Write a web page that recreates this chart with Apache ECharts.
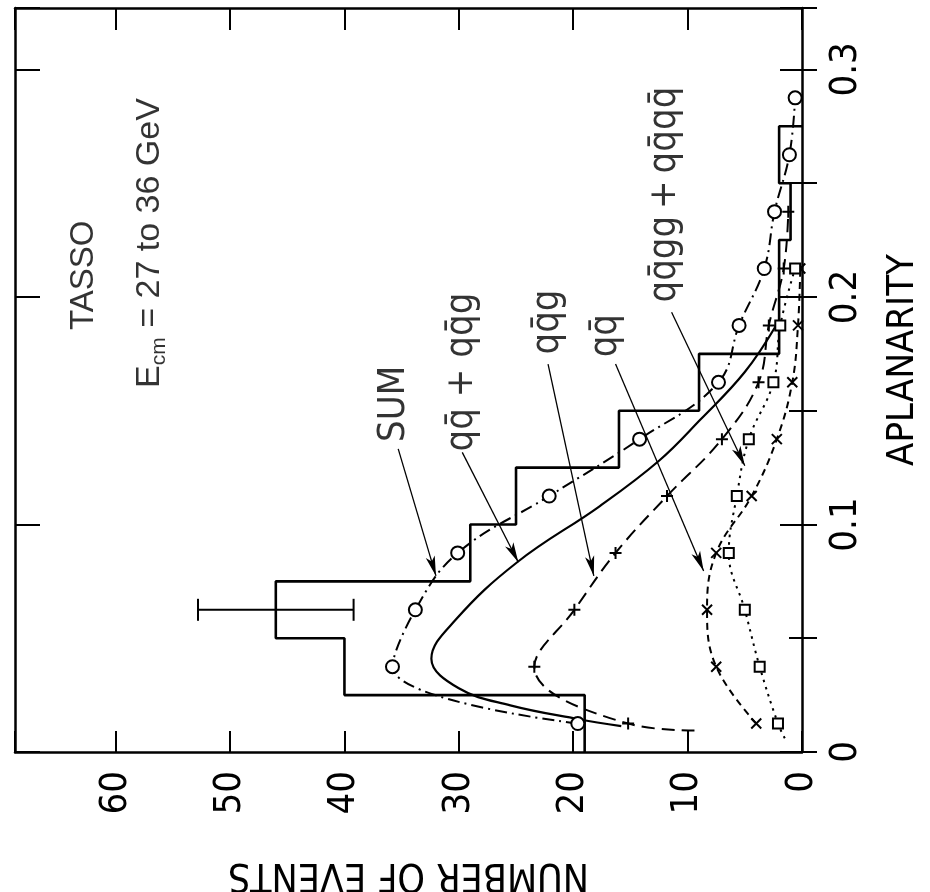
<!DOCTYPE html>
<html>
<head>
<meta charset="utf-8">
<script src="https://cdn.jsdelivr.net/npm/echarts@6/dist/echarts.min.js"></script>
<style>
html,body{margin:0;padding:0;background:#fff;}
#chart{width:930px;height:892px;}
</style>
</head>
<body>
<div id="chart"></div>
<script>
// ---------------- data ----------------
// Histogram of measured aplanarity (bins of 0.025)
const binLow   = [0, 0.025, 0.05, 0.075, 0.1, 0.125, 0.15, 0.175, 0.2, 0.225, 0.25, 0.275];
const binHigh  = [0.025, 0.05, 0.075, 0.1, 0.125, 0.15, 0.175, 0.2, 0.225, 0.25, 0.275, 0.3];
const histCounts = [19, 40, 46, 29, 25, 16, 9, 2, 2, 1, 2, 0];

// Error bar on the highest bin
const errApl = [0.0625];
const errCenter = [46];
const errHalf = [6.8];

// SUM (dash-dot, circles)
const sumApl    = [0.0125, 0.0375, 0.0625, 0.0875, 0.1125, 0.1375, 0.1625, 0.1875, 0.2125, 0.2375, 0.2625, 0.2875];
const sumEvents = [19.6, 35.8, 33.8, 30.1, 22.1, 14.2, 7.3, 5.5, 3.3, 2.4, 1.1, 0.6];

// q qbar + q qbar g (solid, no markers)
const twoApl    = [0.0114, 0.0145, 0.0205, 0.028, 0.041, 0.058, 0.0834, 0.108, 0.128, 0.146, 0.167, 0.188];
const twoEvents = [15.8, 19.6, 25.5, 30.0, 32.4, 30.3, 24.9, 17.7, 12.5, 8.9, 5.0, 2.2];

// q qbar g (dashed, plus markers)
const qqgApl    = [0.0125, 0.0375, 0.0625, 0.0875, 0.1125, 0.1375, 0.1625, 0.1875, 0.2125, 0.2375];
const qqgEvents = [15.2, 23.4, 19.9, 16.3, 11.8, 7.0, 3.8, 2.9, 1.6, 1.2];
const qqgEndApl = [0.0094];
const qqgEndEvents = [9.4];

// q qbar (short dashes, crosses)
const qqApl    = [0.0125, 0.0375, 0.0625, 0.0875, 0.1125, 0.1375, 0.1625, 0.1875, 0.2125];
const qqEvents = [4.0, 7.5, 8.3, 7.5, 4.4, 2.2, 0.85, 0.35, 0.15];

// q qbar g g + q qbar q qbar (dotted, squares)
const q4Apl    = [0.0125, 0.0375, 0.0625, 0.0875, 0.1125, 0.1375, 0.1625, 0.1875, 0.2125];
const q4Events = [2.1, 3.7, 5.0, 6.4, 5.7, 4.65, 2.5, 1.9, 0.6];
const q4EndApl = [0.006];
const q4EndEvents = [1.5];

// Axis ticks
const eventTicks = [0, 10, 20, 30, 40, 50, 60];
const aplTicks = [0, 0.1, 0.2, 0.3];
const aplTickLabels = ['0', '0.1', '0.2', '0.3'];

// Annotations (in data units: events, aplanarity)
const annoTexts  = ['SUM', 'qq\u0304 + qq\u0304g', 'qq\u0304g', 'qq\u0304', 'qq\u0304gg\u2009+\u2009qq\u0304qq\u0304'];
const annoEvents = [35.7, 29.7, 22.2, 17.1, 12.0];
const annoApl    = [0.153, 0.167, 0.189, 0.183, 0.245];
const arrowFromEvents = [35.3, 29.7, 22.2, 16.3, 11.4];
const arrowFromApl    = [0.1332, 0.1317, 0.1705, 0.1705, 0.1933];
const arrowToEvents   = [32.0, 24.8, 18.2, 8.6, 5.0];
const arrowToApl      = [0.0774, 0.0834, 0.0774, 0.0796, 0.1258];

const headerTexts = ['TASSO', 'E_cm = 27 to 36 GeV'];
const headerEvents = [62.8, 57.0];
const headerApl = [0.2095, 0.2237];

// ---------------- chart ----------------
const EV_MAX = 68.8;
const APL_MAX = 0.327;
const FN = "'Liberation Sans Narrow','Arial Narrow','DejaVu Sans Condensed',sans-serif";
const FR = "'Liberation Sans',Arial,sans-serif";
const BLACK = '#000';

// histogram outline
const histLine = [];
let lastHi = 0;
histCounts.forEach((c, i) => {
  if (c > 0) {
    histLine.push([c, binLow[i]]);
    histLine.push([c, binHigh[i]]);
    lastHi = binHigh[i];
  }
});
histLine.push([0, lastHi]);

function markerPts(ev, ap) { return ev.map((e, i) => ({ value: [e, ap[i]] })); }
function plainPts(ev, ap) { return ev.map((e, i) => ({ value: [e, ap[i]], symbol: 'none' })); }
function byApl(arr) { return arr.sort((a, b) => a.value[1] - b.value[1]); }

const PLUS = 'path://M0,5L10,5M5,0L5,10';
const CROSS = 'path://M0,0L10,10M10,0L0,10';

function curve(data, dash, symbol, size, fill, width) {
  return {
    type: 'line', xAxisIndex: 0, yAxisIndex: 0,
    data: data, smooth: 0.4,
    symbol: symbol, symbolSize: size, showSymbol: true,
    lineStyle: { color: BLACK, width: width || 2, type: dash },
    itemStyle: { color: fill, borderColor: BLACK, borderWidth: 2 },
    emphasis: { disabled: true }, z: 3
  };
}

const valueAxisBase = {
  type: 'value', splitLine: { show: false },
  axisLine: { show: true, onZero: false, lineStyle: { color: BLACK, width: 2.5 } }
};

const option = {
  animation: false,
  backgroundColor: '#fff',
  grid: { left: 15, right: 128, top: 8, bottom: 140, containLabel: false, outerBoundsMode: 'none' },
  xAxis: [
    Object.assign({}, valueAxisBase, {
      position: 'bottom', inverse: true, min: 0, max: EV_MAX, interval: 10,
      axisTick: { show: true, inside: true, length: 21, lineStyle: { color: BLACK, width: 2 } },
      axisLabel: {
        show: true, rotate: 90, margin: 19, color: BLACK, fontFamily: FN, fontSize: 38,
        formatter: v => (eventTicks.indexOf(Math.round(v)) >= 0 && Math.abs(v - Math.round(v)) < 1e-6) ? String(Math.round(v)) : ''
      },
      name: 'NUMBER OF EVENTS', nameLocation: 'middle', nameGap: 103, nameRotate: 180,
      nameTextStyle: { color: BLACK, fontFamily: FN, fontSize: 39 }
    }),
    Object.assign({}, valueAxisBase, {
      position: 'top', inverse: true, min: 0, max: EV_MAX, interval: 10,
      axisTick: { show: true, inside: true, length: 22, lineStyle: { color: BLACK, width: 2 } },
      axisLabel: { show: false }
    })
  ],
  yAxis: [
    Object.assign({}, valueAxisBase, {
      position: 'right', min: 0, max: APL_MAX, interval: 0.1,
      axisTick: { show: true, inside: true, length: 22, lineStyle: { color: BLACK, width: 2 } },
      axisLabel: {
        show: true, rotate: 90, margin: 25, color: BLACK, fontFamily: FN, fontSize: 38,
        formatter: v => {
          const k = aplTicks.findIndex(t => Math.abs(t - v) < 1e-9);
          return k >= 0 ? aplTickLabels[k] : '';
        }
      },
      name: 'APLANARITY', nameLocation: 'middle', nameGap: 82,
      nameTextStyle: { color: BLACK, fontFamily: FN, fontSize: 38, padding: [0, 0, 0, 40] }
    }),
    Object.assign({}, valueAxisBase, {
      position: 'right', min: 0, max: APL_MAX, interval: 0.05,
      axisLine: { show: false },
      axisTick: { show: true, inside: true, length: 13, lineStyle: { color: BLACK, width: 2 } },
      axisLabel: { show: false }
    }),
    Object.assign({}, valueAxisBase, {
      position: 'left', min: 0, max: APL_MAX, interval: 0.1,
      axisTick: { show: true, inside: true, length: 25, lineStyle: { color: BLACK, width: 2 } },
      axisLabel: { show: false }
    }),
    Object.assign({}, valueAxisBase, {
      position: 'left', min: 0, max: APL_MAX, interval: 0.05,
      axisLine: { show: false },
      axisTick: { show: true, inside: true, length: 15, lineStyle: { color: BLACK, width: 2 } },
      axisLabel: { show: false }
    })
  ],
  series: [
    // histogram
    {
      type: 'line', xAxisIndex: 0, yAxisIndex: 0, data: histLine,
      symbol: 'none', lineStyle: { color: BLACK, width: 2.6 }, z: 2,
      emphasis: { disabled: true }
    },
    // error bar
    {
      type: 'custom', xAxisIndex: 0, yAxisIndex: 0,
      data: errApl.map((a, i) => [errCenter[i] - errHalf[i], errCenter[i] + errHalf[i], a]),
      encode: { x: [0, 1], y: 2 },
      renderItem: function (params, api) {
        const p1 = api.coord([api.value(0), api.value(2)]);
        const p2 = api.coord([api.value(1), api.value(2)]);
        const cap = 11;
        const st = { stroke: BLACK, lineWidth: 2 };
        return {
          type: 'group', children: [
            { type: 'line', shape: { x1: p1[0], y1: p1[1], x2: p2[0], y2: p2[1] }, style: st },
            { type: 'line', shape: { x1: p1[0], y1: p1[1] - cap, x2: p1[0], y2: p1[1] + cap }, style: st },
            { type: 'line', shape: { x1: p2[0], y1: p2[1] - cap, x2: p2[0], y2: p2[1] + cap }, style: st }
          ]
        };
      }, z: 2
    },
    // SUM
    curve(markerPts(sumEvents, sumApl), [12, 5, 2, 5], 'circle', 13, '#fff', 2),
    // qqbar + qqbar g
    curve(plainPts(twoEvents, twoApl), 'solid', 'none', 0, '#000', 2.2),
    // qqbar g
    curve(byApl(plainPts(qqgEndEvents, qqgEndApl).concat(markerPts(qqgEvents, qqgApl))), [13, 7], PLUS, 12, 'none', 2),
    // qqbar
    curve(markerPts(qqEvents, qqApl), [7, 5], CROSS, 10, 'none', 2),
    // qqbar gg + qqbar qqbar
    curve(byApl(plainPts(q4EndEvents, q4EndApl).concat(markerPts(q4Events, q4Apl))), [2.5, 5], 'rect', 10, '#fff', 2),
    // annotations (labels + arrows)
    {
      type: 'scatter', xAxisIndex: 0, yAxisIndex: 0,
      data: annoTexts.map((t, i) => ({ name: t, value: [annoEvents[i], annoApl[i]] })),
      symbol: 'circle', symbolSize: 1, itemStyle: { color: 'rgba(0,0,0,0)' },
      label: {
        show: true, position: 'inside', rotate: 90, formatter: '{b}',
        color: BLACK, fontFamily: FN, fontSize: 38
      },
      markLine: {
        silent: true, symbol: ['none', 'arrow'], symbolSize: [7, 20],
        label: { show: false },
        lineStyle: { color: BLACK, width: 1.3, type: 'solid' },
        data: arrowFromEvents.map((e, i) => [
          { coord: [e, arrowFromApl[i]] },
          { coord: [arrowToEvents[i], arrowToApl[i]] }
        ])
      },
      emphasis: { disabled: true }, z: 5
    },
    // header text
    {
      type: 'scatter', xAxisIndex: 0, yAxisIndex: 0,
      data: [
        { name: headerTexts[0], value: [headerEvents[0], headerApl[0]],
          label: { formatter: '{b}' } },
        { name: headerTexts[1], value: [headerEvents[1], headerApl[1]],
          label: {
            formatter: '{e|E}{s|cm}{t| = 27 to 36 GeV}',
            rich: {
              e: { fontFamily: FR, fontSize: 34, color: BLACK, lineHeight: 40, verticalAlign: 'middle' },
              s: { fontFamily: FR, fontSize: 21, color: BLACK, verticalAlign: 'bottom' },
              t: { fontFamily: FR, fontSize: 34, color: BLACK, lineHeight: 40, verticalAlign: 'middle' }
            }
          } }
      ],
      symbol: 'circle', symbolSize: 1, itemStyle: { color: 'rgba(0,0,0,0)' },
      label: { show: true, position: 'inside', rotate: 90, color: BLACK, fontFamily: FR, fontSize: 33 },
      emphasis: { disabled: true }, z: 5
    }
  ]
};

const chart = echarts.init(document.getElementById('chart'), null, { renderer: 'canvas' });
chart.setOption(option);
</script>
</body>
</html>
